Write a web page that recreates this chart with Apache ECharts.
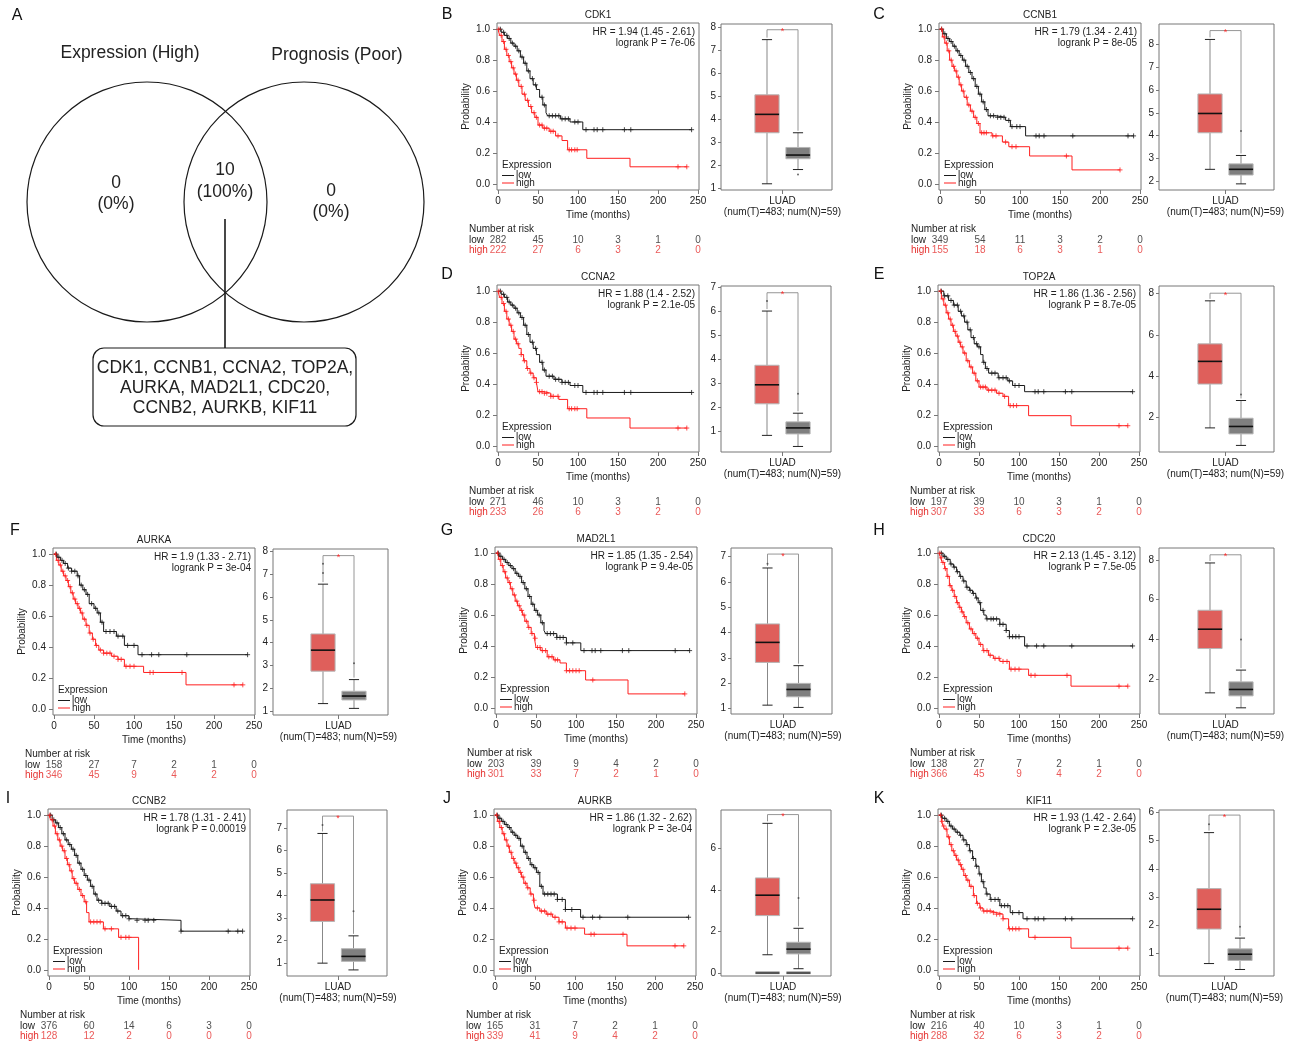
<!DOCTYPE html>
<html>
<head>
<meta charset="utf-8">
<title>Hub genes - expression and prognosis</title>
<script src="https://cdn.jsdelivr.net/npm/echarts@6/dist/echarts.min.js"></script>
<style>
html, body { margin: 0; padding: 0; background: #fff; }
#chart { width: 1296px; height: 1044px; }
</style>
</head>
<body>
<div id="chart"></div>
<script>
var FONT = 'Liberation Sans, Arial, Helvetica, sans-serif';

// ---------- data ----------
var vennSets = ['Expression (High)', 'Prognosis (Poor)'];
var vennCounts = [0, 10, 0];   // only expression, both, only prognosis

var genes = ['CDK1', 'CCNB1', 'CCNA2', 'TOP2A', 'AURKA', 'MAD2L1', 'CDC20', 'CCNB2', 'AURKB', 'KIF11'];
var panelLetters = ['B', 'C', 'D', 'E', 'F', 'G', 'H', 'I', 'J', 'K'];

var hrValues = ['1.94 (1.45 - 2.61)', '1.79 (1.34 - 2.41)', '1.88 (1.4 - 2.52)', '1.86 (1.36 - 2.56)', '1.9 (1.33 - 2.71)',
                '1.85 (1.35 - 2.54)', '2.13 (1.45 - 3.12)', '1.78 (1.31 - 2.41)', '1.86 (1.32 - 2.62)', '1.93 (1.42 - 2.64)'];
var logrankP = ['7e-06', '8e-05', '2.1e-05', '8.7e-05', '3e-04', '9.4e-05', '7.5e-05', '0.00019', '3e-04', '2.3e-05'];

var timeTicks = [0, 50, 100, 150, 200, 250];
var probTicks = [0, 0.2, 0.4, 0.6, 0.8, 1.0];

// Kaplan-Meier steps [months, survival]
var lowCurves = [
  [[0,1],[4,0.98],[8,0.96],[12,0.94],[16,0.91],[20,0.89],[24,0.86],[28,0.82],[32,0.78],[36,0.73],[40,0.68],[44,0.64],[48,0.61],[52,0.56],[56,0.51],[60,0.46],[62,0.44],[78,0.42],[90,0.40],[106,0.35],[242,0.35]],
  [[0,1],[4,0.97],[8,0.94],[12,0.92],[16,0.89],[20,0.86],[24,0.83],[28,0.80],[32,0.76],[36,0.72],[40,0.68],[44,0.63],[48,0.58],[52,0.53],[56,0.48],[60,0.44],[70,0.43],[82,0.41],[88,0.37],[107,0.31],[242,0.31]],
  [[0,1],[4,0.98],[8,0.96],[12,0.93],[16,0.91],[20,0.89],[24,0.86],[28,0.83],[32,0.78],[36,0.72],[40,0.67],[44,0.63],[48,0.59],[52,0.54],[56,0.49],[60,0.45],[70,0.43],[80,0.41],[90,0.39],[106,0.345],[242,0.345]],
  [[0,1],[6,0.97],[12,0.94],[18,0.91],[24,0.87],[28,0.84],[32,0.80],[36,0.75],[40,0.70],[44,0.66],[48,0.64],[52,0.59],[55,0.54],[58,0.50],[62,0.47],[74,0.44],[86,0.42],[92,0.39],[107,0.35],[242,0.35]],
  [[0,1],[4,0.98],[8,0.96],[12,0.94],[17,0.91],[22,0.89],[29,0.86],[32,0.80],[36,0.77],[40,0.74],[44,0.68],[50,0.65],[54,0.62],[58,0.56],[62,0.50],[78,0.47],[88,0.41],[105,0.35],[242,0.35]],
  [[0,1],[4,0.98],[8,0.96],[12,0.94],[16,0.92],[20,0.90],[24,0.87],[28,0.85],[32,0.81],[36,0.77],[40,0.72],[44,0.67],[48,0.63],[52,0.60],[56,0.55],[60,0.50],[62,0.48],[76,0.455],[88,0.42],[106,0.37],[242,0.37]],
  [[0,1],[5,0.98],[9,0.96],[14,0.93],[18,0.91],[22,0.88],[26,0.85],[30,0.82],[34,0.78],[38,0.76],[42,0.74],[46,0.71],[49,0.68],[52,0.63],[56,0.60],[59,0.575],[76,0.54],[84,0.50],[88,0.46],[107,0.40],[242,0.40]],
  [[0,1],[4,0.97],[8,0.95],[12,0.92],[16,0.88],[20,0.84],[24,0.81],[28,0.78],[32,0.74],[36,0.69],[40,0.65],[44,0.61],[48,0.58],[52,0.54],[56,0.49],[60,0.45],[66,0.43],[76,0.41],[84,0.38],[90,0.35],[100,0.33],[105,0.32],[165,0.25],[242,0.25]],
  [[0,1],[4,0.98],[8,0.96],[12,0.94],[16,0.92],[20,0.89],[24,0.87],[28,0.85],[32,0.80],[36,0.76],[40,0.72],[44,0.68],[48,0.66],[52,0.63],[56,0.54],[60,0.49],[78,0.455],[88,0.39],[107,0.34],[242,0.34]],
  [[0,1],[4,0.98],[9,0.96],[13,0.93],[17,0.91],[21,0.89],[26,0.87],[30,0.84],[34,0.81],[38,0.77],[42,0.72],[46,0.67],[50,0.62],[53,0.57],[56,0.53],[59,0.49],[64,0.455],[76,0.415],[89,0.37],[105,0.33],[242,0.33]]
];
var highCurves = [
  [[0,1],[2,0.96],[5,0.92],[8,0.87],[11,0.83],[14,0.79],[17,0.75],[20,0.71],[23,0.67],[26,0.63],[30,0.58],[34,0.54],[38,0.50],[42,0.46],[46,0.43],[50,0.38],[56,0.36],[64,0.34],[72,0.31],[80,0.28],[87,0.22],[111,0.165],[165,0.11],[236,0.11]],
  [[0,1],[3,0.95],[6,0.91],[9,0.86],[12,0.80],[15,0.76],[18,0.73],[21,0.69],[24,0.64],[27,0.60],[30,0.56],[34,0.51],[38,0.47],[42,0.43],[46,0.39],[50,0.33],[65,0.31],[78,0.27],[86,0.24],[112,0.18],[165,0.09],[225,0.09]],
  [[0,1],[2,0.96],[5,0.92],[8,0.87],[11,0.82],[14,0.78],[17,0.74],[20,0.69],[23,0.66],[26,0.63],[29,0.59],[32,0.55],[36,0.50],[40,0.47],[44,0.44],[48,0.41],[50,0.35],[58,0.34],[66,0.32],[76,0.30],[87,0.24],[111,0.18],[165,0.115],[236,0.115]],
  [[0,1],[3,0.95],[6,0.91],[9,0.86],[12,0.82],[15,0.78],[18,0.74],[21,0.71],[24,0.67],[27,0.64],[30,0.60],[34,0.55],[38,0.51],[42,0.47],[46,0.42],[50,0.38],[60,0.36],[72,0.34],[80,0.32],[87,0.26],[112,0.195],[165,0.13],[236,0.13]],
  [[0,1],[3,0.96],[6,0.93],[9,0.89],[12,0.86],[15,0.83],[18,0.79],[21,0.75],[24,0.71],[27,0.68],[30,0.65],[33,0.62],[36,0.58],[40,0.54],[44,0.49],[48,0.45],[52,0.41],[56,0.38],[62,0.36],[72,0.34],[80,0.32],[88,0.275],[112,0.235],[165,0.155],[236,0.155]],
  [[0,1],[3,0.96],[6,0.92],[9,0.88],[12,0.84],[15,0.81],[18,0.77],[21,0.73],[24,0.69],[27,0.66],[30,0.63],[33,0.60],[36,0.56],[40,0.52],[44,0.48],[48,0.45],[50,0.39],[56,0.37],[64,0.33],[72,0.31],[80,0.29],[88,0.24],[112,0.18],[165,0.09],[236,0.09]],
  [[0,1],[2,0.97],[4,0.94],[7,0.90],[10,0.85],[13,0.79],[16,0.76],[19,0.72],[22,0.68],[25,0.65],[28,0.62],[31,0.59],[34,0.55],[38,0.51],[42,0.48],[46,0.45],[50,0.41],[55,0.37],[62,0.34],[68,0.32],[76,0.30],[88,0.25],[112,0.21],[165,0.14],[236,0.14]],
  [[0,1],[2,0.97],[5,0.93],[8,0.88],[11,0.84],[14,0.80],[17,0.77],[20,0.72],[23,0.68],[26,0.64],[29,0.59],[32,0.56],[36,0.52],[40,0.48],[44,0.44],[47,0.37],[50,0.31],[68,0.265],[87,0.21],[112,0]],
  [[0,1],[3,0.96],[6,0.92],[9,0.88],[12,0.84],[15,0.80],[18,0.76],[21,0.72],[24,0.69],[27,0.66],[30,0.63],[33,0.60],[36,0.56],[40,0.53],[44,0.49],[48,0.45],[50,0.40],[56,0.38],[64,0.36],[72,0.34],[80,0.31],[88,0.27],[112,0.23],[165,0.155],[236,0.155]],
  [[0,1],[3,0.96],[5,0.93],[7,0.91],[10,0.86],[13,0.81],[16,0.77],[19,0.74],[22,0.71],[25,0.68],[28,0.65],[31,0.61],[34,0.58],[38,0.54],[43,0.48],[47,0.43],[51,0.40],[55,0.38],[65,0.37],[72,0.36],[80,0.33],[87,0.265],[112,0.21],[165,0.14],[236,0.14]]
];

// censored times (months)
var lowCensored = [
  [3,7,11,14,18,22,26,30,34,38,43,47,55,58,64,68,72,76,80,84,88,96,100,110,120,124,131,158,166,242],
  [2,6,10,14,18,22,26,30,34,38,42,46,50,54,58,63,67,72,76,80,86,90,96,100,120,124,130,166,235,242],
  [3,7,11,14,18,22,26,30,34,38,43,47,55,58,64,68,72,76,80,84,88,96,100,110,120,124,131,158,166,242],
  [3,7,11,15,19,23,27,31,35,39,43,47,50,56,60,66,70,75,80,84,88,95,100,120,124,131,158,166,242],
  [3,6,10,14,18,22,26,30,34,38,42,47,52,56,60,65,70,75,80,86,92,100,110,122,131,166,242],
  [3,6,10,14,18,22,26,30,34,38,42,46,50,54,58,64,68,72,76,80,84,88,96,110,120,124,131,158,166,224,242],
  [3,7,11,15,19,23,27,31,35,39,43,47,51,55,60,65,68,72,76,80,84,88,92,96,100,110,122,131,166,242],
  [2,6,10,14,18,22,26,30,34,38,42,46,50,54,58,62,66,70,74,78,82,86,92,96,100,110,120,124,131,165,224,236,242],
  [3,6,10,14,18,22,26,30,34,38,42,46,50,54,58,62,66,70,74,78,84,88,96,110,122,131,166,242],
  [3,7,11,15,19,23,27,31,35,39,43,47,51,55,60,65,70,74,78,82,86,92,100,110,120,124,131,158,166,242]
];
var highCensored = [
  [1,4,7,10,13,16,19,22,25,29,33,37,41,45,48,52,55,58,61,66,69,75,89,92,96,99,225,236],
  [2,5,8,11,14,17,20,23,26,29,33,36,40,44,48,52,55,58,66,70,82,90,95,158,225],
  [1,4,7,10,13,16,19,22,25,29,33,37,41,45,48,52,55,58,61,66,69,75,89,92,96,99,225,236],
  [2,5,8,11,14,17,20,23,26,29,32,36,40,44,48,52,55,58,62,66,70,75,82,89,93,97,225,236],
  [2,5,8,11,14,17,20,23,26,29,32,35,38,41,45,49,53,58,62,66,70,75,80,84,90,95,100,120,124,160,225,236],
  [2,5,8,11,14,17,20,23,26,29,32,35,38,41,45,49,52,55,58,62,66,70,74,77,88,92,96,100,104,121,236],
  [1,3,5,8,11,14,17,20,23,26,29,32,36,40,44,48,52,56,60,64,70,75,80,85,90,95,100,115,120,160,225,236],
  [1,4,7,10,13,16,19,22,25,28,31,34,38,42,46,52,56,60,64,70,78,90,96,100],
  [2,5,8,11,14,17,20,23,26,29,32,35,38,41,45,49,53,58,62,66,70,75,80,84,90,95,100,120,124,160,225,236],
  [2,4,6,9,12,15,18,21,24,27,30,33,36,40,44,48,52,56,60,64,68,72,76,80,88,92,96,100,120,225,236]
];

var riskLow = [
  [282,45,10,3,1,0],[349,54,11,3,2,0],[271,46,10,3,1,0],[197,39,10,3,1,0],[158,27,7,2,1,0],
  [203,39,9,4,2,0],[138,27,7,2,1,0],[376,60,14,6,3,0],[165,31,7,2,1,0],[216,40,10,3,1,0]
];
var riskHigh = [
  [222,27,6,3,2,0],[155,18,6,3,1,0],[233,26,6,3,2,0],[307,33,6,3,2,0],[346,45,9,4,2,0],
  [301,33,7,2,1,0],[366,45,9,4,2,0],[128,12,2,0,0,0],[339,41,9,4,2,0],[288,32,6,3,2,0]
];

// GEPIA boxplots: [lower whisker, Q1, median, Q3, upper whisker]
var tumorStats = [
  [1.2,3.42,4.22,5.07,7.47],[2.51,4.12,4.97,5.83,8.23],[0.84,2.15,2.94,3.75,6.0],[1.48,3.61,4.71,5.56,7.65],[1.33,2.75,3.67,4.38,6.56],
  [1.13,2.82,3.61,4.34,6.55],[1.33,3.55,4.52,5.47,7.84],[1.0,2.85,3.8,4.52,6.75],[0.88,2.76,3.74,4.57,7.19],[0.65,1.87,2.57,3.3,5.28]
];
var normalStats = [
  [1.82,2.29,2.45,2.78,3.42],[1.87,2.26,2.51,2.75,3.12],[0.38,0.9,1.15,1.4,1.76],[0.63,1.19,1.55,1.95,2.81],[1.12,1.49,1.66,1.87,2.38],
  [1.04,1.46,1.75,1.99,2.69],[0.58,1.18,1.5,1.88,2.47],[0.7,1.08,1.3,1.64,2.21],[0.21,0.92,1.15,1.48,2.15],[0.44,0.76,0.98,1.17,1.55]
];
var tumorOutliers = [[], [], [6.42], [], [7.05,7.45], [6.72], [], [7.12], [], [5.58]];
var normalOutliers = [[1.6], [4.2], [2.57], [3.1], [3.1], [], [4.0], [3.3], [3.6], [1.95]];
// panel J shows a flat bar at 0 under both groups
var zeroBars = [false, false, false, false, false, false, false, false, true, false];
var bracketLevel = [7.9, 8.62, 6.76, 8.02, 7.81, 7.1, 8.25, 7.52, 7.61, 5.9];
var boxTicks = [
  [1,2,3,4,5,6,7,8],[2,3,4,5,6,7,8],[1,2,3,4,5,6,7],[2,4,6,8],[1,2,3,4,5,6,7,8],
  [1,2,3,4,5,6,7],[2,4,6,8],[1,2,3,4,5,6,7],[0,2,4,6],[1,2,3,4,5,6]
];
var boxRange = [
  [0.93,8.15],[1.6,8.91],[0.15,7.04],[0.31,8.37],[0.83,8.1],
  [0.78,7.34],[0.27,8.59],[0.43,7.79],[-0.14,7.83],[0.21,6.08]
];
var sampleLabel = 'LUAD\n(num(T)=483; num(N)=59)';

// ---------- layout (pixels) ----------
var panels = [
  {kx: 497, ky: 23,  bx: 721,  bw: 111, red: 767,   lx: 447, ly: 15},
  {kx: 939, ky: 23,  bx: 1159, bw: 115, red: 1210,  lx: 879, ly: 15},
  {kx: 497, ky: 285, bx: 721,  bw: 110, red: 767,   lx: 447, ly: 275},
  {kx: 938, ky: 285, bx: 1159, bw: 115, red: 1210,  lx: 879, ly: 275},
  {kx: 53,  ky: 548, bx: 273,  bw: 115, red: 323,   lx: 15,  ly: 531},
  {kx: 495, ky: 547, bx: 731,  bw: 101, red: 767.5, lx: 447, ly: 531},
  {kx: 938, ky: 547, bx: 1159, bw: 115, red: 1210,  lx: 879, ly: 531},
  {kx: 48,  ky: 809, bx: 287,  bw: 100, red: 322.5, lx: 8,   ly: 799},
  {kx: 494, ky: 809, bx: 721,  bw: 110, red: 767.5, lx: 447, ly: 799},
  {kx: 938, ky: 809, bx: 1159, bw: 115, red: 1209,  lx: 879, ly: 799}
];
var KW = 202, KH = 167, BOX_GAP = 31;

var LOW_C = '#1a1a1a', HIGH_C = '#ff1f1f', HIGH_TXT = '#e5302e';
var TUMOR_FILL = '#df5f5b', NORMAL_FILL = '#7f7f7f';
var FRAME = '#777', TXT = '#222';

var grids = [], xAxes = [], yAxes = [], series = [], graphics = [];

function addText(x, y, text, size, color, align) {
  graphics.push({
    type: 'text', x: x, y: y, silent: true,
    style: { text: text, fontSize: size, fontFamily: FONT, fill: color || TXT,
             align: align || 'left', verticalAlign: 'middle' }
  });
}

function survAt(curve, t) {
  var s = curve[0][1];
  for (var k = 0; k < curve.length; k++) {
    if (curve[k][0] <= t) s = curve[k][1]; else break;
  }
  return s;
}

var labelStyle = { fontSize: 10, fontFamily: FONT, color: TXT };
var tickStyle = { color: FRAME, width: 1 };

function renderCross(params, api) {
  var p = api.coord([api.value(0), api.value(1)]);
  var c = api.visual('color');
  return { type: 'group', children: [
    { type: 'line', shape: { x1: p[0] - 2.5, y1: p[1], x2: p[0] + 2.5, y2: p[1] }, style: { stroke: c, lineWidth: 0.8 } },
    { type: 'line', shape: { x1: p[0], y1: p[1] - 2.5, x2: p[0], y2: p[1] + 2.5 }, style: { stroke: c, lineWidth: 0.8 } }
  ]};
}

function renderBox(params, api) {
  var x = api.value(0);
  var lo = api.coord([x, api.value(1)]), q1 = api.coord([x, api.value(2)]);
  var md = api.coord([x, api.value(3)]), q3 = api.coord([x, api.value(4)]);
  var hi = api.coord([x, api.value(5)]);
  var half = api.size([0.39, 0])[0];
  var cap = half * 0.42;
  var cx = lo[0];
  return { type: 'group', children: [
    { type: 'line', shape: { x1: cx, y1: hi[1], x2: cx, y2: q3[1] }, style: { stroke: '#555', lineWidth: 0.7 } },
    { type: 'line', shape: { x1: cx, y1: q1[1], x2: cx, y2: lo[1] }, style: { stroke: '#555', lineWidth: 0.7 } },
    { type: 'line', shape: { x1: cx - cap, y1: hi[1], x2: cx + cap, y2: hi[1] }, style: { stroke: '#222', lineWidth: 1 } },
    { type: 'line', shape: { x1: cx - cap, y1: lo[1], x2: cx + cap, y2: lo[1] }, style: { stroke: '#222', lineWidth: 1 } },
    { type: 'rect', shape: { x: cx - half, y: q3[1], width: half * 2, height: q1[1] - q3[1] },
      style: { fill: x === 1 ? TUMOR_FILL : NORMAL_FILL, stroke: '#b5b5b5', lineWidth: 1 } },
    { type: 'line', shape: { x1: cx - half, y1: md[1], x2: cx + half, y2: md[1] }, style: { stroke: '#111', lineWidth: 1.6 } }
  ]};
}

function renderZeroBar(params, api) {
  var p = api.coord([api.value(0), api.value(1)]);
  var half = api.size([0.39, 0])[0];
  return { type: 'rect', shape: { x: p[0] - half, y: p[1] - 1.5, width: half * 2, height: 2.5 }, style: { fill: '#555' } };
}

function renderBracket(params, api) {
  var top = api.value(0);
  var a = api.coord([1, top]), b = api.coord([2, top]);
  var aEnd = api.coord([1, api.value(1)]), bEnd = api.coord([2, api.value(2)]);
  return { type: 'group', children: [
    { type: 'polyline', shape: { points: [[a[0], aEnd[1] - 2], a, b, [b[0], bEnd[1] - 2]] },
      style: { stroke: '#8a8a8a', lineWidth: 0.9, fill: null } },
    { type: 'text', x: (a[0] + b[0]) / 2, y: a[1] + 2,
      style: { text: '*', fontSize: 9, fontFamily: FONT, fill: '#ff2a2a', align: 'center', verticalAlign: 'middle' } }
  ]};
}

panels.forEach(function (L, i) {
  // ---- Kaplan-Meier plot ----
  var g = grids.length;
  grids.push({ left: L.kx, top: L.ky, width: KW, height: KH, show: true, borderColor: FRAME, borderWidth: 1,
               backgroundColor: 'transparent', outerBoundsMode: 'none' });
  xAxes.push({
    gridIndex: g, type: 'value', min: -1.25, max: 251.25,
    name: 'Time (months)', nameLocation: 'middle', nameGap: 20,
    nameTextStyle: { fontSize: 10, fontFamily: FONT, color: TXT },
    axisLine: { show: false, onZero: false },
    axisTick: { show: true, length: 4, customValues: timeTicks, lineStyle: tickStyle },
    axisLabel: Object.assign({ customValues: timeTicks, margin: 6 }, labelStyle),
    splitLine: { show: false }
  });
  yAxes.push({
    gridIndex: g, type: 'value', min: -0.04, max: 1.04,
    name: 'Probability', nameLocation: 'middle', nameGap: 26, nameRotate: 90,
    nameTextStyle: { fontSize: 10, fontFamily: FONT, color: TXT },
    axisLine: { show: false, onZero: false },
    axisTick: { show: true, length: 4, customValues: probTicks, lineStyle: tickStyle },
    axisLabel: Object.assign({ customValues: probTicks, margin: 7, formatter: function (v) { return v.toFixed(1); } }, labelStyle),
    splitLine: { show: false }
  });
  [[lowCurves[i], lowCensored[i], LOW_C], [highCurves[i], highCensored[i], HIGH_C]].forEach(function (grp) {
    series.push({
      type: 'line', xAxisIndex: g, yAxisIndex: g, data: grp[0], step: 'end', showSymbol: false,
      lineStyle: { color: grp[2], width: 1 }, silent: true, z: 3
    });
    series.push({
      type: 'custom', xAxisIndex: g, yAxisIndex: g, renderItem: renderCross, silent: true, z: 4,
      itemStyle: { color: grp[2] },
      data: grp[1].map(function (t) { return [t, survAt(grp[0], t)]; })
    });
  });

  // ---- number at risk table ----
  var r = grids.length;
  grids.push({ left: L.kx, top: L.ky + 212, width: KW, height: 20, outerBoundsMode: 'none' });
  xAxes.push({ gridIndex: r, type: 'value', min: -1.25, max: 251.25, show: false });
  yAxes.push({
    gridIndex: r, type: 'category', data: ['high', 'low'],
    axisLine: { show: false }, axisTick: { show: false }, splitLine: { show: false },
    axisLabel: {
      interval: 0, margin: 28, align: 'left', fontSize: 10, fontFamily: FONT,
      formatter: function (v) { return v === 'high' ? '{h|high}' : '{l|low}'; },
      rich: { h: { color: HIGH_TXT, fontSize: 10, fontFamily: FONT }, l: { color: TXT, fontSize: 10, fontFamily: FONT } }
    }
  });
  [['low', riskLow[i], TXT], ['high', riskHigh[i], HIGH_TXT]].forEach(function (row) {
    series.push({
      type: 'scatter', xAxisIndex: r, yAxisIndex: r, symbolSize: 1, silent: true,
      itemStyle: { color: 'rgba(0,0,0,0)' },
      label: { show: true, position: 'inside', fontSize: 10, fontFamily: FONT, color: row[2],
               formatter: function (p) { return String(p.value[2]); } },
      data: row[1].map(function (n, j) { return [timeTicks[j], row[0], n]; })
    });
  });

  // ---- boxplot ----
  var b = grids.length;
  var xmin = 1 - (L.red - L.bx) / BOX_GAP;
  grids.push({ left: L.bx, top: L.ky + 1, width: L.bw, height: 166, show: true, borderColor: FRAME, borderWidth: 1,
               backgroundColor: 'transparent', outerBoundsMode: 'none' });
  xAxes.push({
    gridIndex: b, type: 'value', min: xmin, max: xmin + L.bw / BOX_GAP,
    axisLine: { show: false, onZero: false },
    axisTick: { show: true, length: 4, customValues: [1.5], lineStyle: tickStyle },
    axisLabel: { customValues: [1.5], margin: 6, fontSize: 10, lineHeight: 11, fontFamily: FONT, color: TXT,
                 formatter: function () { return sampleLabel; } },
    splitLine: { show: false }
  });
  yAxes.push({
    gridIndex: b, type: 'value', min: boxRange[i][0], max: boxRange[i][1],
    axisLine: { show: false, onZero: false },
    axisTick: { show: true, length: 3, customValues: boxTicks[i], lineStyle: tickStyle },
    axisLabel: Object.assign({ customValues: boxTicks[i], margin: 5 }, labelStyle),
    splitLine: { show: false }
  });
  series.push({
    type: 'scatter', xAxisIndex: b, yAxisIndex: b, symbolSize: 2, silent: true,
    itemStyle: { color: '#444' },
    data: tumorOutliers[i].map(function (v) { return [1, v]; }).concat(normalOutliers[i].map(function (v) { return [2, v]; }))
  });
  if (zeroBars[i]) {
    series.push({
      type: 'custom', xAxisIndex: b, yAxisIndex: b, renderItem: renderZeroBar, silent: true,
      data: [[1, 0], [2, 0]]
    });
  }
  series.push({
    type: 'custom', xAxisIndex: b, yAxisIndex: b, renderItem: renderBox, silent: true,
    encode: { x: 0, y: [1, 2, 3, 4, 5] },
    data: [[1].concat(tumorStats[i]), [2].concat(normalStats[i])]
  });
  series.push({
    type: 'custom', xAxisIndex: b, yAxisIndex: b, renderItem: renderBracket, silent: true,
    encode: { y: [0, 1, 2] },
    data: [[bracketLevel[i], tumorStats[i][4], normalStats[i][4]]]
  });

  // ---- panel texts ----
  addText(L.lx, L.ly, panelLetters[i], 16, '#111', 'center');
  addText(L.kx + KW / 2, L.ky - 8, genes[i], 10, TXT, 'center');
  addText(L.kx + 198, L.ky + 9, 'HR = ' + hrValues[i], 10, TXT, 'right');
  addText(L.kx + 198, L.ky + 20, 'logrank P = ' + logrankP[i], 10, TXT, 'right');
  addText(L.kx + 5, L.ky + 142, 'Expression', 10, TXT, 'left');
  graphics.push({ type: 'line', silent: true, shape: { x1: L.kx + 5, y1: L.ky + 152.5, x2: L.kx + 17, y2: L.ky + 152.5 }, style: { stroke: LOW_C, lineWidth: 1 } });
  graphics.push({ type: 'line', silent: true, shape: { x1: L.kx + 5, y1: L.ky + 160, x2: L.kx + 17, y2: L.ky + 160 }, style: { stroke: HIGH_C, lineWidth: 1 } });
  addText(L.kx + 19, L.ky + 152, 'low', 10, TXT, 'left');
  addText(L.kx + 19, L.ky + 160, 'high', 10, TXT, 'left');
  addText(L.kx - 28, L.ky + 206, 'Number at risk', 10, TXT, 'left');
});

// ---------- panel A: Venn diagram ----------
var total = vennCounts[0] + vennCounts[1] + vennCounts[2];
function pct(n) { return '(' + Math.round(n / total * 100) + '%)'; }
addText(17, 16, 'A', 16, '#111', 'center');
addText(130, 53, vennSets[0], 17.5, TXT, 'center');
addText(337, 55, vennSets[1], 17.5, TXT, 'center');
graphics.push({ type: 'circle', silent: true, shape: { cx: 147, cy: 202, r: 120 }, style: { fill: null, stroke: '#1a1a1a', lineWidth: 1.2 } });
graphics.push({ type: 'circle', silent: true, shape: { cx: 304, cy: 202, r: 120 }, style: { fill: null, stroke: '#1a1a1a', lineWidth: 1.2 } });
addText(116, 183, String(vennCounts[0]), 17.5, TXT, 'center');
addText(116, 204, pct(vennCounts[0]), 17.5, TXT, 'center');
addText(225, 170, String(vennCounts[1]), 17.5, TXT, 'center');
addText(225, 192, pct(vennCounts[1]), 17.5, TXT, 'center');
addText(331, 191, String(vennCounts[2]), 17.5, TXT, 'center');
addText(331, 212, pct(vennCounts[2]), 17.5, TXT, 'center');
graphics.push({ type: 'line', silent: true, shape: { x1: 225, y1: 219, x2: 225, y2: 348 }, style: { stroke: '#1a1a1a', lineWidth: 1.6 } });
graphics.push({ type: 'rect', silent: true, shape: { x: 93, y: 348, width: 263, height: 78, r: 11 }, style: { fill: '#fff', stroke: '#1a1a1a', lineWidth: 1.2 } });
var geneLines = [genes.slice(0, 4).join(', ') + ',', genes.slice(4, 7).join(', ') + ',', genes.slice(7).join(', ')];
geneLines.forEach(function (t, k) { addText(225, 368 + k * 20, t, 17.5, TXT, 'center'); });

var chart = echarts.init(document.getElementById('chart'));
chart.setOption({
  animation: false,
  backgroundColor: '#fff',
  textStyle: { fontFamily: FONT },
  grid: grids,
  xAxis: xAxes,
  yAxis: yAxes,
  series: series,
  graphic: { elements: graphics }
});
</script>
</body>
</html>
